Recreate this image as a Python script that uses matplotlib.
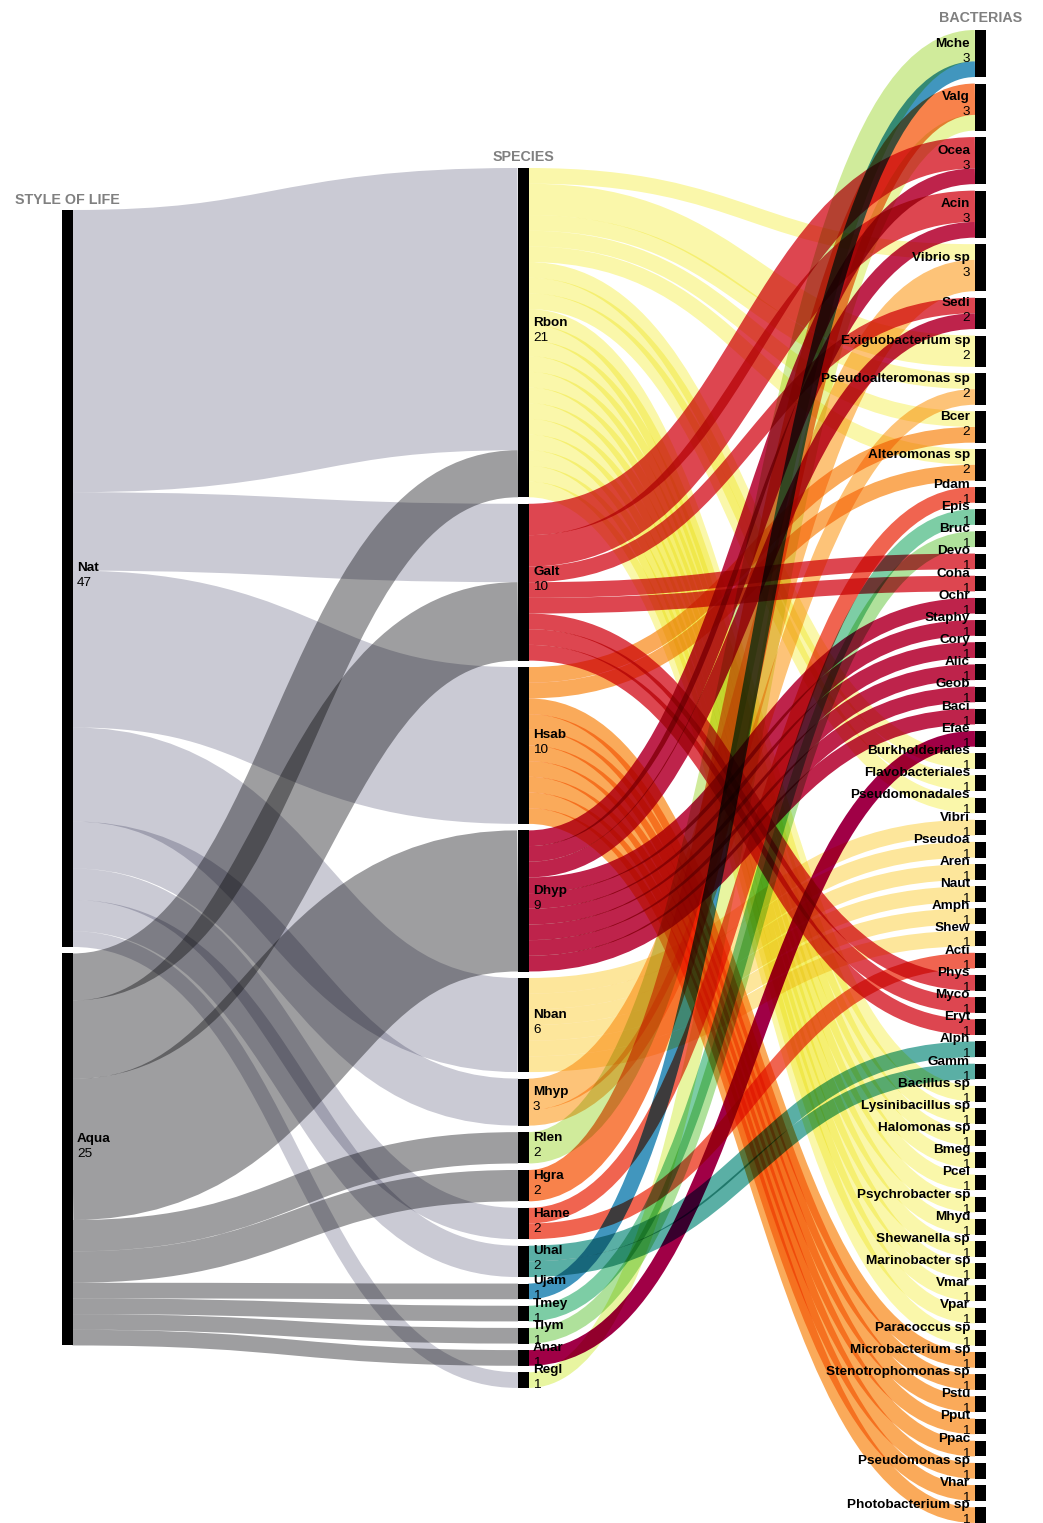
# sankey: style of life -> species -> bacteria
from itertools import groupby

import numpy as np
import matplotlib
matplotlib.use("Agg")
import matplotlib.pyplot as plt
from matplotlib.backends.backend_agg import RendererAgg
from matplotlib.patches import PathPatch, Rectangle
from matplotlib.path import Path

plt.rcParams["font.family"] = ["Liberation Sans", "DejaVu Sans"]

# ===== DATA =====
life_names = ["Nat", "Aqua"]
life_values = [47, 25]

species_names = ["Rbon", "Galt", "Hsab", "Dhyp", "Nban", "Mhyp", "Rlen", "Hgra",
                 "Hame", "Uhal", "Ujam", "Tmey", "Tlym", "Anar", "Regl"]
species_values = [21, 10, 10, 9, 6, 3, 2, 2, 2, 2, 1, 1, 1, 1, 1]
from_nat = [18, 5, 10, 0, 6, 3, 0, 0, 2, 2, 0, 0, 0, 0, 1]
from_aqua = [3, 5, 0, 9, 0, 0, 2, 2, 0, 0, 1, 1, 1, 1, 0]

bacteria_names = ["Mche", "Valg", "Ocea", "Acin", "Vibrio sp", "Sedi", "Exiguobacterium sp",
                  "Pseudoalteromonas sp", "Bcer", "Alteromonas sp", "Pdam", "Epis", "Bruc",
                  "Devo", "Coha", "Ochr", "Staphy", "Cory", "Alic", "Geob", "Baci", "Efae",
                  "Burkholderiales", "Flavobacteriales", "Pseudomonadales", "Vibri", "Pseudoa",
                  "Aren", "Naut", "Amph", "Shew", "Acti", "Phys", "Myco", "Eryt", "Alph", "Gamm",
                  "Bacillus sp", "Lysinibacillus sp", "Halomonas sp", "Bmeg", "Pcel",
                  "Psychrobacter sp", "Mhyd", "Shewanella sp", "Marinobacter sp", "Vmar", "Vpar",
                  "Paracoccus sp", "Microbacterium sp", "Stenotrophomonas sp", "Pstu", "Pput",
                  "Ppac", "Pseudomonas sp", "Vhar", "Photobacterium sp"]
bacteria_values = [3, 3, 3, 3, 3, 2, 2, 2, 2, 2] + [1] * 47

# one entry = one unit, repeats of a name are merged into one thicker link
rbon_targets = ["Vibrio sp", "Exiguobacterium sp", "Exiguobacterium sp", "Pseudoalteromonas sp",
                "Bcer", "Alteromonas sp", "Burkholderiales", "Flavobacteriales", "Pseudomonadales",
                "Bacillus sp", "Lysinibacillus sp", "Halomonas sp", "Bmeg", "Pcel",
                "Psychrobacter sp", "Mhyd", "Shewanella sp", "Marinobacter sp", "Vmar", "Vpar",
                "Paracoccus sp"]
galt_targets = ["Ocea", "Ocea", "Acin", "Acin", "Sedi", "Devo", "Coha", "Phys", "Myco", "Eryt"]
hsab_targets = ["Bcer", "Alteromonas sp", "Microbacterium sp", "Stenotrophomonas sp", "Pstu",
                "Pput", "Ppac", "Pseudomonas sp", "Vhar", "Photobacterium sp"]
dhyp_targets = ["Ocea", "Acin", "Sedi", "Ochr", "Staphy", "Cory", "Alic", "Geob", "Baci"]
nban_targets = ["Vibri", "Pseudoa", "Aren", "Naut", "Amph", "Shew"]
mhyp_targets = ["Vibrio sp", "Vibrio sp", "Pseudoalteromonas sp"]
rlen_targets = ["Mche", "Mche"]
hgra_targets = ["Valg", "Valg"]
hame_targets = ["Pdam", "Acti"]
uhal_targets = ["Alph", "Gamm"]
ujam_targets = ["Mche"]
tmey_targets = ["Epis"]
tlym_targets = ["Bruc"]
anar_targets = ["Efae"]
regl_targets = ["Valg"]
species_targets = [rbon_targets, galt_targets, hsab_targets, dhyp_targets, nban_targets,
                   mhyp_targets, rlen_targets, hgra_targets, hame_targets, uhal_targets,
                   ujam_targets, tmey_targets, tlym_targets, anar_targets, regl_targets]

# ===== STYLE =====
life_colors = ["#cacad4", "#9e9ea0"]
species_colors = ["#faf7aa", "#dd4650", "#faaa5a", "#be234b", "#fde69b", "#fdc378", "#d0eb9b",
                  "#f8824b", "#f06450", "#5aafa5", "#4196be", "#7dcda5", "#afe19b", "#a00046",
                  "#e8f5a0"]
UNIT = 15.68     # px per value
PAD = 6.5        # px between nodes
NODE_W = 10.5
LIFE_X, SPECIES_X, BACT_X = 62, 518, 975
LIFE_TOP, SPECIES_TOP, BACT_TOP = 210, 168, 30
DPI = 100


class MultiplyLink(PathPatch):
    # multiply blend (agg has none): draw on an own layer, then darken the canvas with it
    def draw(self, renderer):
        layer = RendererAgg(renderer.width, renderer.height, renderer.dpi)
        super().draw(layer)
        cover = np.asarray(layer.buffer_rgba())[..., 3:] / 255
        tint = np.array(self.get_edgecolor()[:3])
        base = np.asarray(renderer.buffer_rgba())
        base[..., :3] = np.rint(base[..., :3] * (1 - cover * (1 - tint)))


def node_tops(values, top):
    tops = []
    y = top
    for v in values:
        tops.append(y)
        y += v * UNIT + PAD
    return tops


def add_link(ax, x0, y0, x1, y1, value, color):
    xm = (x0 + x1) / 2
    verts = [(x0, y0), (xm, y0), (xm, y1), (x1, y1)]
    codes = [Path.MOVETO, Path.CURVE4, Path.CURVE4, Path.CURVE4]
    ax.add_patch(MultiplyLink(Path(verts, codes), fill=False, edgecolor=color,
                              linewidth=value * UNIT * 72 / DPI, capstyle="butt", zorder=1))


def add_nodes(ax, x, tops, names, values, align):
    for top, name, v in zip(tops, names, values):
        h = v * UNIT
        ax.add_patch(Rectangle((x, top), NODE_W, h, color="black", lw=0, zorder=2))
        mid = top + h / 2
        tx = x + NODE_W + 4.5 if align == "left" else x - 5
        ax.text(tx, mid - 10, name, ha=align, va="center", fontsize=9.7,
                fontweight="bold", color="black", zorder=3)
        ax.text(tx, mid + 5, str(v), ha=align, va="center", fontsize=9.7,
                color="black", zorder=3)


def main():
    fig = plt.figure(figsize=(1043 / DPI, 1523 / DPI), dpi=DPI)
    ax = fig.add_axes([0, 0, 1, 1])
    ax.set_xlim(0, 1043)
    ax.set_ylim(1523, 0)
    ax.axis("off")

    life_tops = node_tops(life_values, LIFE_TOP)
    species_tops = node_tops(species_values, SPECIES_TOP)
    bact_tops = node_tops(bacteria_values, BACT_TOP)

    # left links, aggregated per species
    life_used = [0, 0]
    for i in range(len(species_names)):
        used = 0
        for j, v in enumerate([from_nat[i], from_aqua[i]]):
            if v == 0:
                continue
            y0 = life_tops[j] + (life_used[j] + v / 2) * UNIT
            y1 = species_tops[i] + (used + v / 2) * UNIT
            add_link(ax, LIFE_X + NODE_W, y0, SPECIES_X, y1, v, life_colors[j])
            life_used[j] += v
            used += v

    # right links
    bact_used = {name: 0 for name in bacteria_names}
    for i, targets in enumerate(species_targets):
        used = 0
        for name, group in groupby(targets):
            v = len(list(group))
            b = bacteria_names.index(name)
            y0 = species_tops[i] + (used + v / 2) * UNIT
            y1 = bact_tops[b] + (bact_used[name] + v / 2) * UNIT
            add_link(ax, SPECIES_X + NODE_W, y0, BACT_X, y1, v, species_colors[i])
            bact_used[name] += v
            used += v

    add_nodes(ax, LIFE_X, life_tops, life_names, life_values, "left")
    add_nodes(ax, SPECIES_X, species_tops, species_names, species_values, "left")
    add_nodes(ax, BACT_X, bact_tops, bacteria_names, bacteria_values, "right")

    for x, y, title in [(15, 200, "STYLE OF LIFE"), (493, 157, "SPECIES"), (939, 18, "BACTERIAS")]:
        ax.text(x, y, title, ha="left", va="center", fontsize=10.3, fontweight="bold",
                color="#808080", zorder=3)

    fig.savefig("out.png", dpi=DPI)


if __name__ == "__main__":
    main()
